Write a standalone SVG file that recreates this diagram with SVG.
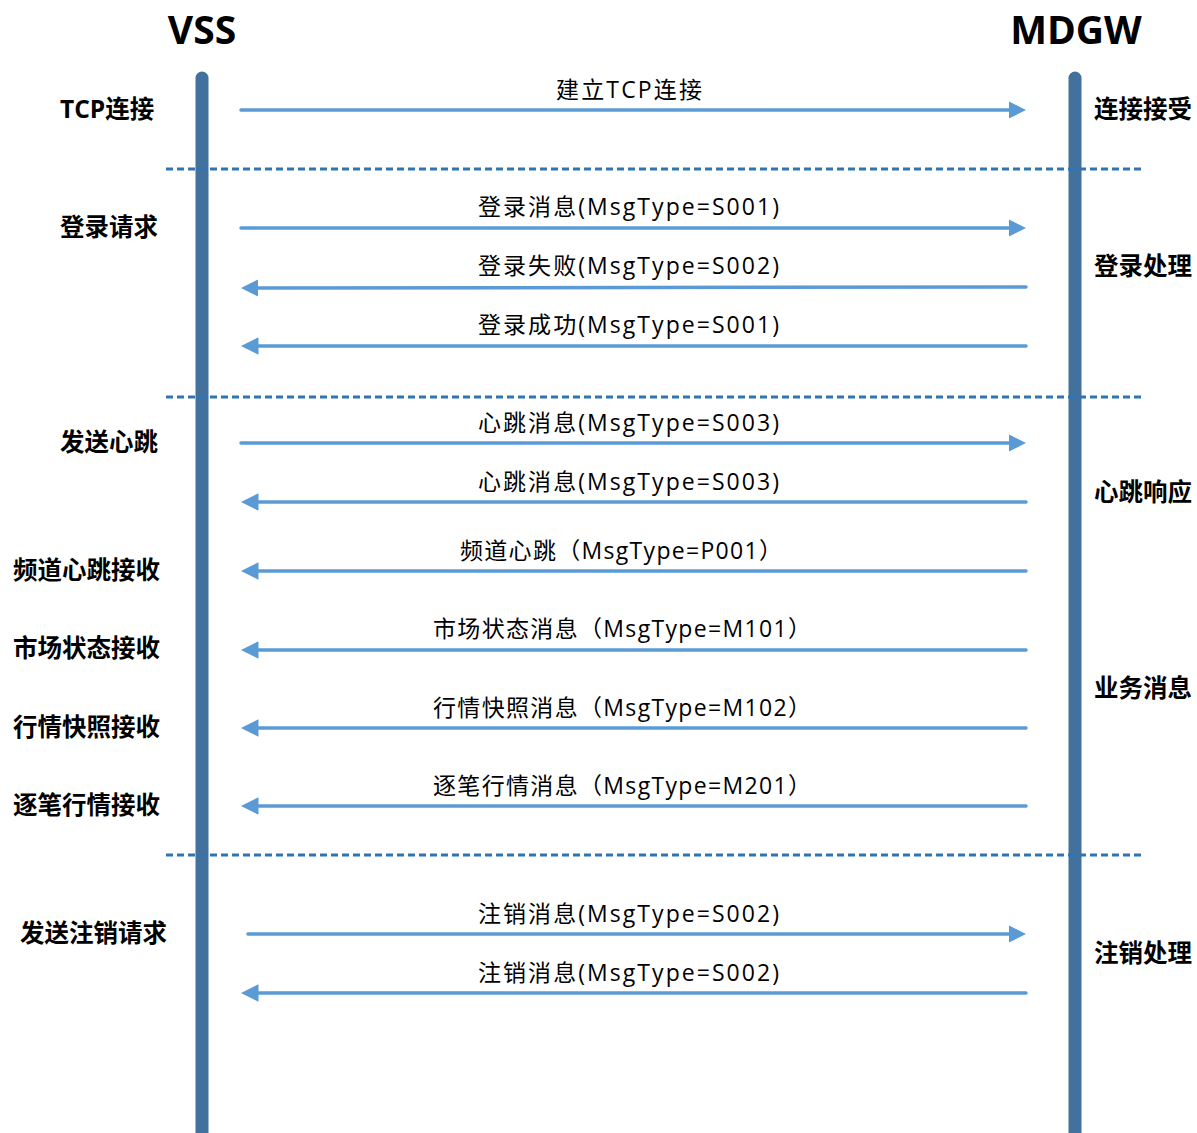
<svg xmlns="http://www.w3.org/2000/svg" width="1197" height="1133" viewBox="0 0 1197 1133">
<style>
.title{font-family:"Open Sans","Noto Sans",sans-serif;font-weight:bold;font-size:39px;fill:#000;text-anchor:middle}
.side{font-family:"Open Sans","Noto Sans CJK SC",sans-serif;font-weight:bold;font-size:24.5px;fill:#000}
.msg{font-family:"Open Sans","Noto Sans CJK SC",sans-serif;font-size:23px;fill:#000;text-anchor:middle}
.life{stroke:#41719C;stroke-width:13;stroke-linecap:round;fill:none}
.sep{stroke:#2E75B6;stroke-width:3;stroke-dasharray:7,4;fill:none}
.arr{stroke:#5B9BD5;stroke-width:3.5;stroke-linecap:round;fill:none}
</style>
<defs>
<marker id="ah" markerWidth="5" markerHeight="5" refX="1" refY="2.5" orient="auto" markerUnits="strokeWidth">
<path d="M0,0 L5,2.5 L0,5 z" fill="#5B9BD5"/>
</marker>
</defs>
<rect width="1197" height="1133" fill="#fff"/>
<g id="vss">
<text class="title" x="202" y="44">VSS</text>
<line class="life" x1="202" y1="78" x2="202" y2="1140"/>
</g>
<g id="mdgw">
<text class="title" x="1076" y="44">MDGW</text>
<line class="life" x1="1075" y1="78" x2="1075" y2="1140"/>
</g>
<g id="separators">
<line class="sep" x1="166" y1="169" x2="1145" y2="169"/>
<line class="sep" x1="166" y1="397" x2="1145" y2="397"/>
<line class="sep" x1="166" y1="855" x2="1145" y2="855"/>
</g>
<g id="left-labels">
<text class="side" x="60" y="118">TCP连接</text>
<text class="side" x="60" y="236">登录请求</text>
<text class="side" x="60" y="451">发送心跳</text>
<text class="side" x="13" y="579">频道心跳接收</text>
<text class="side" x="13" y="657">市场状态接收</text>
<text class="side" x="13" y="736">行情快照接收</text>
<text class="side" x="13" y="814">逐笔行情接收</text>
<text class="side" x="20" y="942">发送注销请求</text>
</g>
<g id="right-labels">
<text class="side" x="1094" y="118">连接接受</text>
<text class="side" x="1094" y="275">登录处理</text>
<text class="side" x="1094" y="501">心跳响应</text>
<text class="side" x="1094" y="697">业务消息</text>
<text class="side" x="1094" y="962">注销处理</text>
</g>
<g id="connectors">
<line class="arr" x1="241" y1="110" x2="1012" y2="110" marker-end="url(#ah)"/>
<line class="arr" x1="241" y1="228" x2="1012" y2="228" marker-end="url(#ah)"/>
<line class="arr" x1="1026" y1="287" x2="255" y2="288" marker-end="url(#ah)"/>
<line class="arr" x1="1026" y1="346" x2="255" y2="346" marker-end="url(#ah)"/>
<line class="arr" x1="241" y1="443" x2="1012" y2="443" marker-end="url(#ah)"/>
<line class="arr" x1="1026" y1="502" x2="255" y2="502" marker-end="url(#ah)"/>
<line class="arr" x1="1026" y1="571" x2="255" y2="571" marker-end="url(#ah)"/>
<line class="arr" x1="1026" y1="650" x2="255" y2="650" marker-end="url(#ah)"/>
<line class="arr" x1="1026" y1="728" x2="255" y2="728" marker-end="url(#ah)"/>
<line class="arr" x1="1026" y1="806" x2="255" y2="806" marker-end="url(#ah)"/>
<line class="arr" x1="248" y1="934" x2="1012" y2="934" marker-end="url(#ah)"/>
<line class="arr" x1="1026" y1="993" x2="255" y2="993" marker-end="url(#ah)"/>
</g>
<g id="connector-labels">
<text class="msg" x="629" y="98" textLength="146" lengthAdjust="spacing">建立TCP连接</text>
<text class="msg" x="628.5" y="215" textLength="301" lengthAdjust="spacing">登录消息(MsgType=S001)</text>
<text class="msg" x="628.5" y="274" textLength="301" lengthAdjust="spacing">登录失败(MsgType=S002)</text>
<text class="msg" x="628.5" y="333" textLength="301" lengthAdjust="spacing">登录成功(MsgType=S001)</text>
<text class="msg" x="628.5" y="431" textLength="301" lengthAdjust="spacing">心跳消息(MsgType=S003)</text>
<text class="msg" x="628.5" y="490" textLength="301" lengthAdjust="spacing">心跳消息(MsgType=S003)</text>
<text class="msg" x="621" y="559" textLength="322" lengthAdjust="spacing">频道心跳（MsgType=P001）</text>
<text class="msg" x="622" y="637" textLength="378" lengthAdjust="spacing">市场状态消息（MsgType=M101）</text>
<text class="msg" x="622" y="716" textLength="378" lengthAdjust="spacing">行情快照消息（MsgType=M102）</text>
<text class="msg" x="622" y="794" textLength="378" lengthAdjust="spacing">逐笔行情消息（MsgType=M201）</text>
<text class="msg" x="628.5" y="922" textLength="301" lengthAdjust="spacing">注销消息(MsgType=S002)</text>
<text class="msg" x="628.5" y="981" textLength="301" lengthAdjust="spacing">注销消息(MsgType=S002)</text>
</g>
</svg>
